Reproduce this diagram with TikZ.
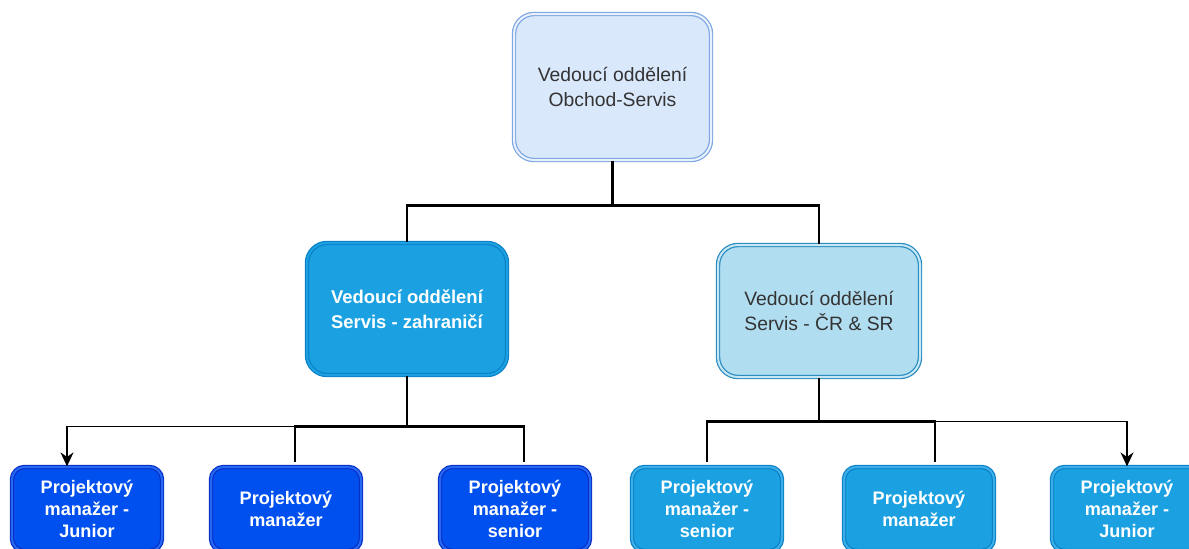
\documentclass[tikz,border=0pt]{standalone}
\usepackage{fontspec}
\setmainfont{Liberation Sans}
\usetikzlibrary{arrows.meta}
\definecolor{headFill}{HTML}{DAE8FC}
\definecolor{headLine}{HTML}{7EA6E0}
\definecolor{cyanFill}{HTML}{1BA1E2}
\definecolor{cyanLine}{HTML}{0B82C8}
\definecolor{lightFill}{HTML}{B1DDF0}
\definecolor{lightLine}{HTML}{2A8DC0}
\definecolor{blueFill}{HTML}{0050EF}
\definecolor{blueLine}{HTML}{0A30C8}
\tikzstyle{recNode} = [rectangle, align=center, rounded corners=0.4cm, line width=0.7pt, double distance=0.04cm]
\tikzstyle{recNodeH} = [recNode, minimum width=3.94cm, minimum height=2.92cm, draw=headLine, double=headFill!60!white, fill=headFill, text=black!80, font=\fontsize{11}{14.2}\selectfont]
\tikzstyle{recNodeZ} = [recNode, minimum width=4cm, minimum height=2.64cm, draw=cyanLine, double=cyanFill, fill=cyanFill, text=white, font=\fontsize{10.5}{14.2}\selectfont\bfseries]
\tikzstyle{recNodeC} = [recNode, minimum width=4.04cm, minimum height=2.64cm, draw=lightLine, double=lightFill!70!white, fill=lightFill, text=black!80, font=\fontsize{11}{14.2}\selectfont]
\tikzstyle{pmNodeB} = [recNode, rounded corners=0.25cm, minimum width=3cm, minimum height=1.68cm, draw=blueLine, double=blueFill!85!white, fill=blueFill, text=white, font=\fontsize{10.3}{12.4}\selectfont\bfseries]
\tikzstyle{pmNodeC} = [pmNodeB, draw=cyanLine, double=cyanFill!85!white, fill=cyanFill]
\tikzstyle{lineK} = [line width=1.6pt, draw=black, shorten >=0.08cm]
\tikzstyle{arrowT} = [line width=0.9pt, ->, >={Stealth[length=0.28cm,width=0.26cm]}, draw=black]

\begin{document}
\begin{tikzpicture}[node distance=4.44cm]
        \useasboundingbox (0,0) rectangle (23.78,-10.96);
        \node (head) [recNodeH] at (12.25,-1.74) {Vedoucí oddělení\\Obchod-Servis};
        \node (zahr) [recNodeZ, below of=head, xshift=-4.11cm] {Vedoucí oddělení\\Servis - zahraničí};
        \node (cr) [recNodeC, below of=head, xshift=4.13cm, yshift=-0.04cm] {Vedoucí oddělení\\Servis - ČR \& SR};
        
        \node (pmJzahr) [pmNodeB, below of=zahr, node distance=4cm, xshift=-6.4cm] {Projektový\\manažer -\\Junior};
        \node (pmzahr) [pmNodeB, below of=zahr, node distance=4cm, xshift=-2.42cm] {Projektový\\manažer};
        \node (pmSzahr) [pmNodeB, below of=zahr, node distance=4cm, xshift=2.16cm] {Projektový\\manažer -\\senior};
        \node (pmScr) [pmNodeC, below of=cr, node distance=3.96cm, xshift=-2.24cm] {Projektový\\manažer -\\senior};
        \node (pmcr) [pmNodeC, below of=cr, node distance=3.96cm, xshift=2cm] {Projektový\\manažer};
        \node (pmJcr) [pmNodeC, below of=cr, node distance=3.96cm, xshift=6.16cm] {Projektový\\manažer -\\Junior};
        
        \path (head.south) ++(0,-0.9) coordinate (hbar);
        \path (zahr.south) ++(0,-1.02) coordinate (zbar);
        \path (cr.south) ++(0,-0.88) coordinate (cbar);
        
        \draw [lineK, shorten >=0pt] (head.south) -- (hbar);
        \draw [lineK, shorten >=0pt] (hbar) -| (zahr.north);
        \draw [lineK, shorten >=0pt] (hbar) -| (cr.north);
        
        \draw [arrowT] (zbar) -| ([xshift=-0.4cm]pmJzahr.north);
        \draw [lineK, shorten >=0pt] (zahr.south) -- (zbar);
        \draw [lineK] (zbar) -| ([xshift=0.18cm]pmzahr.north);
        \draw [lineK] (zbar) -| ([xshift=0.18cm]pmSzahr.north);
        
        \draw [arrowT] (cbar) -| (pmJcr.north);
        \draw [lineK, shorten >=0pt] (cr.south) -- (cbar);
        \draw [lineK] (cbar) -| (pmScr.north);
        \draw [lineK] (cbar) -| ([xshift=0.32cm]pmcr.north);
        
    \end{tikzpicture}
\end{document}
